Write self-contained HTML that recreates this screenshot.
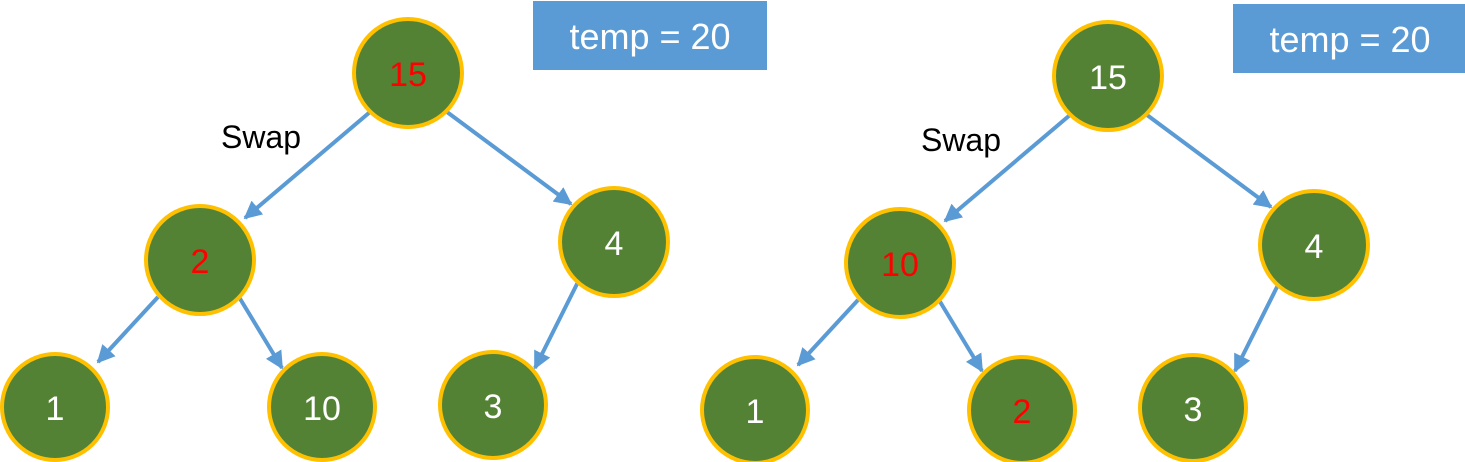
<!DOCTYPE html>
<html><head><meta charset="utf-8"><style>
html,body{margin:0;padding:0;background:#fff;}
svg{display:block;font-family:"Liberation Sans","Noto Sans CJK KR",sans-serif;}
</style></head><body>
<svg width="1465" height="462" viewBox="0 0 1465 462">
<defs>
<marker id="a" viewBox="0 0 10 10" refX="9" refY="5" markerWidth="4.5" markerHeight="4.5" orient="auto" markerUnits="strokeWidth">
<path d="M0,0 L10,5 L0,10 z" fill="#5B9BD5"/></marker>
<g id="edges" stroke="#5B9BD5" stroke-width="4" fill="none">
<line x1="370" y1="112" x2="245" y2="218" marker-end="url(#a)"/>
<line x1="447" y1="112" x2="571" y2="204" marker-end="url(#a)"/>
<line x1="158" y1="297" x2="98" y2="362" marker-end="url(#a)"/>
<line x1="239" y1="297" x2="282" y2="368" marker-end="url(#a)"/>
<line x1="578" y1="282" x2="535" y2="368" marker-end="url(#a)"/>
</g>
</defs>
<g>
<use href="#edges"/>
<rect x="533" y="1" width="234" height="69" fill="#5B9BD5"/>
<text x="650" y="49" font-size="36" fill="#fff" text-anchor="middle">temp = 20</text>
<text x="261" y="148" font-size="32" fill="#000" text-anchor="middle">Swap</text>
<g fill="#548235" stroke="#FFC000" stroke-width="4">
<circle cx="408" cy="73" r="54"/><circle cx="200" cy="260" r="54"/><circle cx="614" cy="242" r="54"/>
<circle cx="55" cy="407" r="53"/><circle cx="322" cy="407" r="53"/><circle cx="493" cy="405" r="53"/>
</g>
<g font-size="34" text-anchor="middle">
<text x="408" y="86" fill="#FF0000">15</text>
<text x="200" y="273" fill="#FF0000">2</text>
<text x="614" y="255" fill="#fff">4</text>
<text x="55" y="420" fill="#fff">1</text>
<text x="322" y="420" fill="#fff">10</text>
<text x="493" y="418" fill="#fff">3</text>
</g>
</g>
<g transform="translate(700,3)">
<use href="#edges"/>
<rect x="533" y="1" width="234" height="69" fill="#5B9BD5"/>
<text x="650" y="49" font-size="36" fill="#fff" text-anchor="middle">temp = 20</text>
<text x="261" y="148" font-size="32" fill="#000" text-anchor="middle">Swap</text>
<g fill="#548235" stroke="#FFC000" stroke-width="4">
<circle cx="408" cy="73" r="54"/><circle cx="200" cy="260" r="54"/><circle cx="614" cy="242" r="54"/>
<circle cx="55" cy="407" r="53"/><circle cx="322" cy="407" r="53"/><circle cx="493" cy="405" r="53"/>
</g>
<g font-size="34" text-anchor="middle">
<text x="408" y="86" fill="#fff">15</text>
<text x="200" y="273" fill="#FF0000">10</text>
<text x="614" y="255" fill="#fff">4</text>
<text x="55" y="420" fill="#fff">1</text>
<text x="322" y="420" fill="#FF0000">2</text>
<text x="493" y="418" fill="#fff">3</text>
</g>
</g>
</svg>
</body></html>
